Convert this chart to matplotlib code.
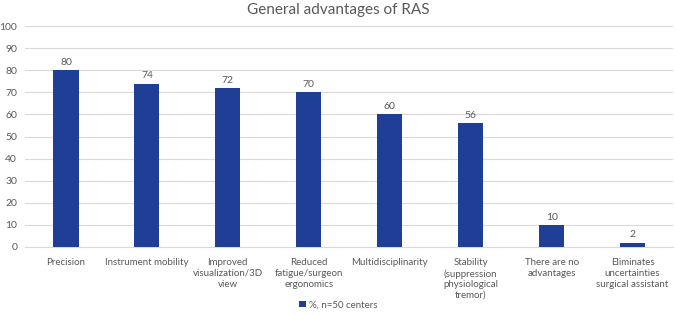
import matplotlib.pyplot as plt
import numpy as np

categories = ['Precision', 'Instrument mobility', 'Improved\nvisualization/3D\nview',
              'Reduced\nfatigue/surgeon\nergonomics', 'Multidisciplinarity',
              'Stability\n(suppression\nphysiological\ntremor)', 'There are no\nadvantages',
              'Eliminates\nuncertainties\nsurgical assistant']
values = [80, 74, 72, 70, 60, 56, 10, 2]

plt.rcParams['font.family'] = ['Lato', 'DejaVu Sans']
text_color = '#595959'
bar_color = '#1F3F96'

fig = plt.figure(figsize=(6.76, 3.15), dpi=100)
ax = fig.add_axes([0.0377, 0.216, 0.958, 0.701])

x = np.arange(len(values))
ax.bar(x, values, width=0.31, color=bar_color, label='%, n=50 centers', zorder=3)
for xi, v in zip(x, values):
    ax.text(xi, v + 1.5, str(v), ha='center', va='bottom', fontsize=7.5, color=text_color)

ax.set_xlim(-0.5, len(values) - 0.5)
ax.set_ylim(0, 100)
ax.set_yticks(range(0, 101, 10))
ax.yaxis.grid(True, color='#d9d9d9', linewidth=0.8, zorder=0)
ax.set_xticks(x)
ax.set_xticklabels(categories, fontsize=7, color=text_color, linespacing=1.25)
ax.tick_params(axis='y', labelsize=7.5, colors=text_color, length=0, pad=6)
ax.tick_params(axis='x', length=0, pad=8)
for s in ['top', 'right', 'left']:
    ax.spines[s].set_visible(False)
ax.spines['bottom'].set_color('#d9d9d9')

fig.suptitle('General advantages of RAS', y=0.99, fontsize=11, color=text_color)
fig.legend(loc='lower center', bbox_to_anchor=(0.5, -0.01), frameon=False, fontsize=7,
           labelcolor=text_color, handlelength=0.7, handleheight=0.7, handletextpad=0.3)

fig.savefig('out.png', dpi=100)
